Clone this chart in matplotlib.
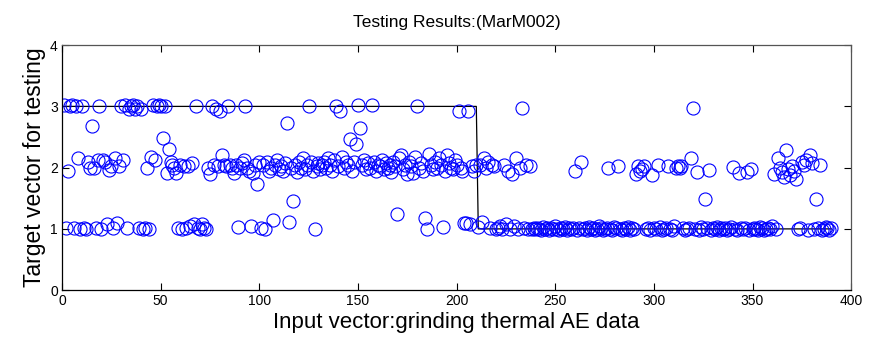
"""
Testing Results:(MarM002) - network output vs target class for each
grinding thermal AE test vector (MATLAB-style scatter + target step line).
"""

import matplotlib
matplotlib.use('Agg')
import matplotlib.pyplot as plt
from matplotlib import font_manager

# === DATA ===
# network output for test vectors 1..390
outputs = [
    3.02, 1.02, 1.95, 3.0, 3.02, 1.02, 3.0, 2.15, 1.0, 3.0,
    1.02, 1.0, 2.1, 2.0, 2.68, 2.0, 1.02, 2.12, 3.0, 1.0,
    2.12, 2.1, 1.08, 1.96, 2.02, 1.02, 2.15, 1.09, 2.03, 3.0,
    2.13, 3.02, 1.02, 2.95, 3.0, 3.02, 2.95, 3.0, 1.02, 2.95,
    1.0, 1.02, 2.0, 1.0, 2.17, 3.02, 2.12, 3.0, 3.02, 3.0,
    2.49, 3.0, 1.92, 2.3, 2.1, 2.05, 2.0, 1.91, 1.02, 2.05,
    1.0, 2.02, 1.02, 2.03, 1.05, 2.08, 1.08, 3.0, 1.02, 1.0,
    1.08, 1.02, 1.0, 2.0, 1.9, 3.0, 2.05, 2.95, 2.03, 2.93,
    2.2, 2.05, 2.02, 3.0, 2.05, 2.0, 1.92, 2.05, 1.03, 2.0,
    2.08, 2.12, 3.0, 2.0, 1.95, 1.05, 1.92, 2.05, 1.73, 2.1,
    1.02, 2.05, 1.0, 2.1, 1.95, 2.0, 1.15, 2.05, 2.12, 1.98,
    2.02, 1.95, 2.08, 2.73, 1.12, 2.0, 1.46, 2.05, 1.93, 2.1,
    2.0, 2.15, 1.97, 2.05, 3.0, 2.1, 1.95, 1.0, 2.02, 2.08,
    1.97, 2.05, 2.1, 2.0, 2.15, 2.05, 1.95, 2.12, 3.0, 2.02,
    2.92, 2.18, 2.0, 2.1, 2.05, 2.46, 1.95, 2.1, 2.39, 3.02,
    2.64, 2.05, 2.12, 1.98, 2.08, 2.0, 3.02, 2.1, 1.95, 2.05,
    2.02, 2.12, 1.97, 2.08, 2.0, 2.05, 1.93, 2.1, 2.02, 1.25,
    2.15, 2.2, 1.98, 2.05, 1.9, 2.1, 2.02, 1.92, 2.18, 3.0,
    2.0, 2.08, 1.95, 1.17, 1.0, 2.22, 2.05, 1.97, 2.1, 2.0,
    2.15, 2.05, 1.03, 1.95, 2.2, 2.08, 2.0, 1.98, 2.12, 2.05,
    2.92, 2.0, 1.95, 1.1, 1.1, 2.92, 1.08, 2.02, 1.95, 2.05,
    1.03, 2.05, 1.12, 2.15, 2.0, 2.1, 1.02, 2.05, 2.02, 1.0,
    1.02, 1.05, 1.0, 2.05, 1.08, 1.95, 1.0, 1.9, 1.05, 2.15,
    1.0, 2.0, 2.97, 1.02, 2.05, 1.0, 2.02, 1.0, 1.02, 1.0,
    1.02, 1.0, 0.99, 1.03, 1.0, 1.01, 0.98, 1.02, 1.0, 1.04,
    1.0, 0.99, 1.02, 1.0, 1.03, 0.98, 1.01, 1.0, 1.02, 1.95,
    0.99, 1.02, 2.09, 1.0, 1.01, 0.98, 1.03, 1.0, 1.02, 0.99,
    1.0, 1.04, 1.01, 0.98, 1.0, 1.02, 2.0, 1.0, 0.99, 1.03,
    1.01, 2.02, 1.0, 0.98, 1.02, 1.0, 1.03, 0.99, 1.01, 1.0,
    1.9, 2.02, 1.95, 1.98, 2.03, 1.0, 1.02, 0.99, 1.88, 1.01,
    1.0, 2.04, 1.03, 0.98, 1.0, 1.02, 2.03, 1.0, 0.99, 1.04,
    2.0, 2.02, 2.0, 2.02, 1.01, 0.98, 1.0, 1.02, 2.15, 2.98,
    1.0, 1.93, 0.99, 1.03, 1.0, 1.49, 1.01, 1.96, 0.98, 1.02,
    1.0, 1.03, 0.99, 1.01, 1.0, 1.02, 0.98, 1.0, 1.03, 2.01,
    1.0, 0.99, 1.91, 1.02, 1.0, 1.01, 1.93, 0.98, 1.97, 1.0,
    1.02, 1.0, 0.99, 1.03, 1.01, 0.98, 1.0, 1.02, 1.0, 1.04,
    1.9, 1.0, 2.15, 2.0, 1.93, 1.85, 2.29, 1.97, 1.88, 2.02,
    1.95, 1.82, 1.0, 1.02, 2.1, 2.05, 2.12, 0.99, 2.2, 2.08,
    1.0, 1.49, 1.02, 2.04, 0.98, 1.0, 1.03, 1.01, 0.99, 1.02,
]
samples = list(range(1, len(outputs) + 1))

# target class: 3 for the first block of vectors, 1 afterwards
n_class3 = 210
targets = [3] * n_class3 + [1] * (len(outputs) - n_class3)

x_ticks = [0, 50, 100, 150, 200, 250, 300, 350, 400]
y_ticks = [0, 1, 2, 3, 4]

# === FONT ===
names = {f.name for f in font_manager.fontManager.ttflist}
FONT = 'Liberation Sans Narrow' if 'Liberation Sans Narrow' in names else 'Liberation Sans'
plt.rcParams['font.family'] = [FONT, 'DejaVu Sans']

# === FIGURE ===
fig = plt.figure(figsize=(8.72, 3.5), dpi=100)
fig.patch.set_facecolor('white')
ax = fig.add_axes([0.0711, 0.171, 0.905, 0.70])

ax.plot(samples, targets, color='black', linewidth=0.9, zorder=1)
ax.plot(samples, outputs, linestyle='none', marker='o', markersize=9.4,
        markerfacecolor='none', markeredgecolor='#0000FF',
        markeredgewidth=0.8, zorder=2)

ax.set_xlim(0, 400)
ax.set_ylim(0, 4)
ax.set_xticks(x_ticks)
ax.set_yticks(y_ticks)
ax.tick_params(direction='in', top=True, right=True, length=5,
               width=0.8, labelsize=10, pad=3)
for side in ['left', 'bottom']:
    ax.spines[side].set_color('black')
for side in ['top', 'right']:
    ax.spines[side].set_color('#555555')
for s in ax.spines.values():
    s.set_linewidth(0.9)

ax.set_title('Testing Results:(MarM002)', fontsize=12.5, pad=13)
ax.set_xlabel('Input vector:grinding thermal AE data', fontsize=16, labelpad=3)
ax.set_ylabel('Target vector for testing', fontsize=16.5, labelpad=3)

fig.savefig('out.png', dpi=100, facecolor='white')
plt.close(fig)
